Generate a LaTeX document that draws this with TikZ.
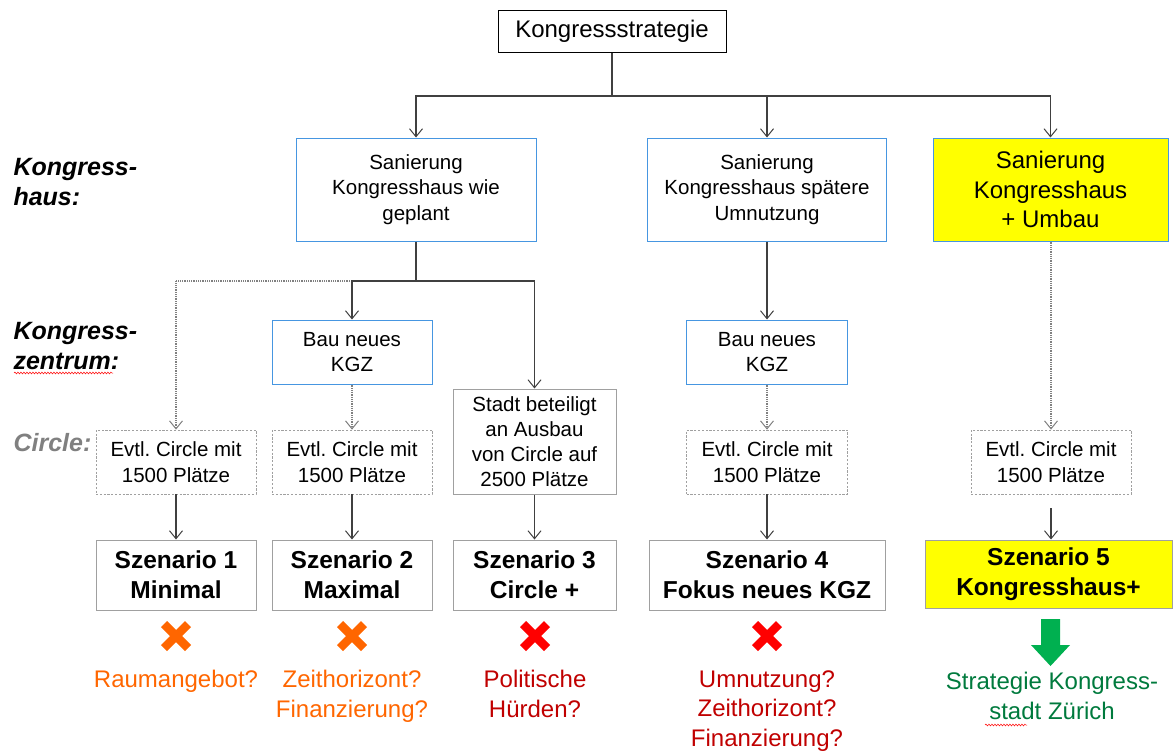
\documentclass[tikz,border=0pt]{standalone}
\usepackage{fontspec}
\setmainfont{Liberation Sans}
\usetikzlibrary{arrows.meta,decorations.pathmorphing}
\definecolor{kblue}{RGB}{70,150,225}
\definecolor{kgray}{RGB}{160,160,160}
\definecolor{kline}{RGB}{64,64,64}
\definecolor{korange}{RGB}{255,102,0}
\definecolor{kred}{RGB}{255,0,0}
\definecolor{kdred}{RGB}{192,0,0}
\definecolor{kgreen}{RGB}{0,122,61}
\definecolor{karrow}{RGB}{0,176,80}
\definecolor{kyellow}{RGB}{255,255,0}
\definecolor{klabel}{RGB}{128,128,128}
\frenchspacing
\begin{document}
\begin{tikzpicture}[x=1pt,y=-1pt,
  box/.style={draw, inner sep=0pt, align=center, line width=1pt},
  blackbox/.style={box, draw=black},
  bluebox/.style={box, draw=kblue},
  graybox/.style={box, draw=kgray},
  dashbox/.style={box, draw=kgray, line width=0.8pt, dash pattern=on 2.2pt off 1.6pt},
  smalltxt/.style={font=\fontsize{20.5}{25.5}\selectfont},
  tighttxt/.style={font=\fontsize{20.5}{25}\selectfont},
  bigtxt/.style={font=\fontsize{24}{29.5}\selectfont},
  boldtxt/.style={font=\fontsize{24.5}{30}\selectfont\bfseries},
  lbl/.style={anchor=west, align=left, font=\fontsize{25}{30}\selectfont\bfseries\itshape},
  arr/.style={draw=kline, line width=1.2pt, -{Straight Barb[length=8pt,width=13pt,line width=1pt]}},
  dotarr/.style={draw=klabel, line width=1.2pt, dash pattern=on 1pt off 0.8pt, -{Straight Barb[length=8pt,width=13pt,line width=1pt,sep=0pt]}},
  ln/.style={draw=kline, line width=1.2pt},
  xmark/.style={line width=8.5pt},
  squiggle/.style={draw=red, line width=0.5pt, decorate, decoration={snake, amplitude=0.9pt, segment length=3pt}}
]
\useasboundingbox (0,0) rectangle (1174,753);

% left labels
\node[lbl] (lkh) at (10,182) {Kongress-\\haus:};
\node[lbl] (lkz) at (10,346) {Kongress-\\zentrum:};
\node[lbl, text=klabel] (lci) at (10,443) {Circle:};
\draw[squiggle] (14,373) -- (113,373);

% top
\node[blackbox, minimum width=228pt, minimum height=42pt, bigtxt] (top) at (612,31) {Kongressstrategie};

% Kongresshaus level
\node[bluebox, minimum width=240pt, minimum height=103pt, smalltxt] (kh1) at (416,189.5) {Sanierung\\Kongresshaus wie\\geplant};
\node[bluebox, minimum width=239pt, minimum height=103pt, smalltxt] (kh2) at (767,189.5) {Sanierung\\Kongresshaus spätere\\Umnutzung};
\node[bluebox, fill=kyellow, minimum width=235pt, minimum height=103pt, bigtxt] (kh3) at (1050.5,189.5) {Sanierung\\Kongresshaus\\+ Umbau};

% Kongresszentrum level
\node[bluebox, minimum width=160pt, minimum height=64pt, smalltxt] (bau1) at (352,352) {Bau neues\\KGZ};
\node[bluebox, minimum width=161pt, minimum height=64pt, smalltxt] (bau2) at (767,352) {Bau neues\\KGZ};

% Circle level
\node[dashbox, minimum width=160pt, minimum height=64pt, smalltxt] (ev1) at (176,462) {Evtl. Circle mit\\1500 Plätze};
\node[dashbox, minimum width=160pt, minimum height=64pt, smalltxt] (ev2) at (352,462) {Evtl. Circle mit\\1500 Plätze};
\node[graybox, minimum width=163pt, minimum height=105pt, tighttxt] (stadt) at (534.5,441.5) {Stadt beteiligt\\an Ausbau\\von Circle auf\\2500 Plätze};
\node[dashbox, minimum width=161pt, minimum height=64pt, smalltxt] (ev4) at (767,462) {Evtl. Circle mit\\1500 Plätze};
\node[dashbox, minimum width=160pt, minimum height=64pt, smalltxt] (ev5) at (1051,462) {Evtl. Circle mit\\1500 Plätze};

% Szenarios
\node[graybox, minimum width=160pt, minimum height=70pt, boldtxt] (sz1) at (176,575) {Szenario 1\\Minimal};
\node[graybox, minimum width=160pt, minimum height=70pt, boldtxt] (sz2) at (352,575) {Szenario 2\\Maximal};
\node[graybox, minimum width=163pt, minimum height=70pt, boldtxt] (sz3) at (534.5,575) {Szenario 3\\Circle +};
\node[graybox, minimum width=236pt, minimum height=70pt, boldtxt] (sz4) at (767,575) {Szenario 4\\Fokus neues KGZ};
\node[graybox, fill=kyellow, minimum width=247pt, minimum height=68pt, boldtxt] (sz5) at (1048.5,574) {Szenario 5\\Kongresshaus+};

% connectors top
\coordinate (j1) at (612,96);
\draw[ln] (top.south) -- (j1);
\draw[arr] (j1) -| (kh1.north);
\draw[arr] (j1) -| (kh2.north);
\draw[arr] (j1) -| (kh3.north);

% from kh1
\coordinate (j2) at (416,281);
\coordinate (j3) at (352,281);
\draw[dotarr] (j3) -| (ev1.north);
\draw[ln] (kh1.south) -- (j2);
\draw[arr] (j2) -| (bau1.north);
\draw[arr] (j2) -| (stadt.north);
\draw[dotarr] (bau1.south) -- (ev2.north);

% from kh2
\draw[arr] (kh2.south) -- (bau2.north);
\draw[dotarr] (bau2.south) -- (ev4.north);

% from kh3
\draw[dotarr] (kh3.south -| ev5.north) -- (ev5.north);

% circle to szenario
\draw[arr] (ev1.south) -- (sz1.north);
\draw[arr] (ev2.south) -- (sz2.north);
\draw[arr] (stadt.south) -- (sz3.north);
\draw[arr] (ev4.south) -- (sz4.north);
\draw[arr] ([yshift=-14pt]ev5.south) -- (ev5.south |- sz5.north);

% crosses
\foreach \cx/\cc in {176/korange, 352/korange, 535/kred, 767/kred}{
  \draw[xmark, draw=\cc] (\cx-12,624) -- (\cx+12,648);
  \draw[xmark, draw=\cc] (\cx-12,648) -- (\cx+12,624);
}

% green arrow
\fill[karrow] (1041,619) -- (1060,619) -- (1060,645) -- (1070,645) -- (1050.5,666) -- (1031,645) -- (1041,645) -- cycle;

% bottom texts
\node[bigtxt, text=korange, align=center, anchor=north] (t1) at (176,667) {Raumangebot?};
\node[bigtxt, text=korange, align=center, anchor=north] (t2) at (352,667) {Zeithorizont?\\Finanzierung?};
\node[bigtxt, text=kdred, align=center, anchor=north] (t3) at (535,667) {Politische\\Hürden?};
\node[bigtxt, text=kdred, align=center, anchor=north] (t4) at (767,667) {Umnutzung?\\Zeithorizont?\\Finanzierung?};
\node[bigtxt, text=kgreen, align=center, anchor=north] (t5) at (1052,669) {Strategie Kongress-\\stadt Zürich};
\draw[squiggle] (985,725) -- (1027,725);
\end{tikzpicture}
\end{document}
